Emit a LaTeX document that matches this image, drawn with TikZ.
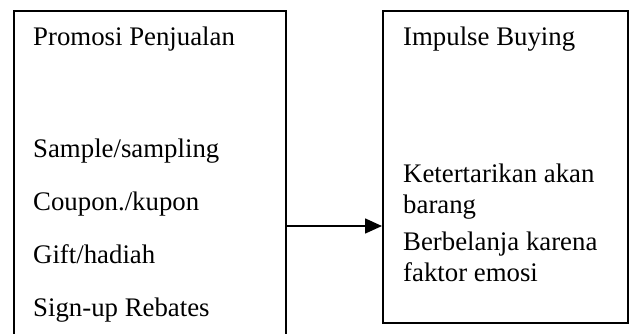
\documentclass[tikz,border=0pt]{standalone}
\usepackage{fontspec}
\setmainfont{Liberation Serif}
\usetikzlibrary{arrows.meta}
\begin{document}
\begin{tikzpicture}[x=1pt,y=-1pt,
  box/.style={draw, line width=1.5pt, inner sep=0pt, anchor=north west},
  lbl/.style={anchor=base west, inner sep=0pt, font=\fontsize{26.8}{31}\selectfont},
  conn/.style={line width=1.6pt, -{Triangle[length=17pt,width=15pt]}}]
\useasboundingbox (0,0) rectangle (632,333);
\clip (0,0) rectangle (632,333);
\node[box, minimum width=272pt, minimum height=345pt] (L) at (13,10) {};
\node[box, minimum width=245pt, minimum height=312pt] (R) at (382,10) {};
\node[lbl] (l0) at (33,45) {Promosi Penjualan};
\node[lbl] (l1) at (33,157) {Sample/sampling};
\node[lbl] (l2) at (33,210) {Coupon./kupon};
\node[lbl] (l3) at (33,263) {Gift/hadiah};
\node[lbl] (l4) at (33,316) {Sign-up Rebates};
\node[lbl] (r0) at (403,45) {Impulse Buying};
\node[lbl] (r1) at (403,182) {Ketertarikan akan};
\node[lbl] (r2) at (403,213) {barang};
\node[lbl] (r3) at (403,250) {Berbelanja karena};
\node[lbl] (r4) at (403,281) {faktor emosi};
\coordinate (arr) at (0,226);
\draw[conn] (L.east |- arr) -- (R.west |- arr);
\end{tikzpicture}
\end{document}
